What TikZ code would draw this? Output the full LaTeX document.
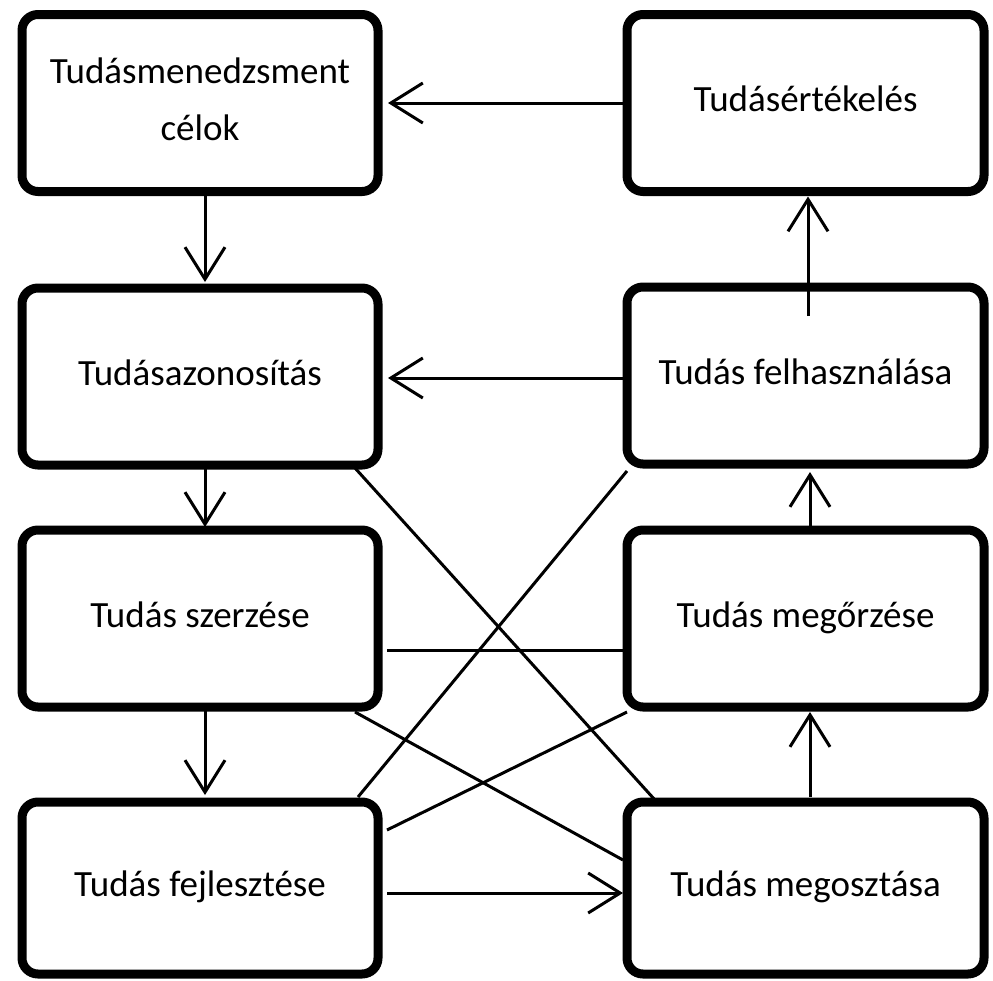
\documentclass[tikz,border=0pt]{standalone}
\usepackage{fontspec}
\setmainfont{Carlito}
\usetikzlibrary{arrows.meta,calc}
\begin{document}
\begin{tikzpicture}[x=1pt,y=-1pt,
  box/.style={draw=black, line width=9pt, rounded corners=16pt, fill=white,
    minimum width=356pt, minimum height=177pt, inner sep=0pt, outer sep=0pt,
    align=center, font=\fontsize{37}{57}\selectfont},
  oneline/.style={text height=27pt, text depth=10pt},
  conn/.style={line width=3pt, draw=black},
  arr/.style={conn, -{Straight Barb[length=32pt,width=40pt]}}
]
\useasboundingbox (0,0) rectangle (993,980);
% boxes
\node[box, text depth=8pt] (TM) at (200,103) {Tudásmenedzsment\\célok};
\node[box, oneline, minimum width=357pt] (TE) at (805.5,103) {Tudásértékelés};
\node[box, oneline] (TA) at (200,376.5) {Tudásazonosítás};
\node[box, oneline, minimum width=357pt] (TF) at (805.5,375.5) {Tudás felhasználása};
\node[box, oneline] (TS) at (200,618.5) {Tudás szerzése};
\node[box, oneline, minimum width=357pt] (TMO) at (805.5,618.5) {Tudás megőrzése};
\node[box, oneline, minimum height=172pt] (TFJ) at (200,888) {Tudás fejlesztése};
\node[box, oneline, minimum width=357pt, minimum height=172pt] (TMG) at (805.5,888) {Tudás megosztása};
% arrows
\draw[arr] (TE.west) -- ([xshift=10pt]TM.east);
\draw[arr] ([yshift=-2.5pt]TF.west) -- ([xshift=10pt,yshift=-1.5pt]TA.east);
\draw[arr] ([xshift=5pt,yshift=-4pt]TM.south) -- ([xshift=5pt,yshift=6pt]TA.north);
\draw[arr] ([xshift=5pt,yshift=-4pt]TA.south) -- ([xshift=5pt,yshift=3pt]TS.north);
\draw[arr] ([xshift=5pt,yshift=-4pt]TS.south) -- ([xshift=5pt,yshift=7pt]TFJ.north);
\draw[arr] ([xshift=9pt,yshift=-5pt]TFJ.east) -- ([xshift=-4pt,yshift=-5pt]TMG.west);
\draw[arr] ([xshift=4.5pt,yshift=5pt]TMG.north) -- ([xshift=4.5pt,yshift=-5pt]TMO.south);
\draw[arr] ([xshift=4.5pt,yshift=4pt]TMO.north) -- ([xshift=4.5pt,yshift=-8pt]TF.south);
\draw[arr] ([xshift=2.5pt,yshift=-29pt]TF.north) -- ([xshift=2.5pt,yshift=-5pt]TE.south);
% crossing lines
\draw[conn] ([xshift=-23pt,yshift=-3pt]TA.south east) -- ([xshift=28pt,yshift=2pt]TMG.north west);
\draw[conn] ([yshift=-7pt]TF.south west) -- ([xshift=-20pt,yshift=5pt]TFJ.north east);
\draw[conn] ([xshift=9pt,yshift=-31.5pt]TS.east) -- ([yshift=-31.5pt]TMO.west);
\draw[conn] ([xshift=-23pt,yshift=-5pt]TS.south east) -- ([xshift=-4pt,yshift=28pt]TMG.west);
\draw[conn] ([xshift=9pt,yshift=-28pt]TFJ.north east) -- ([yshift=-5pt]TMO.south west);
\end{tikzpicture}
\end{document}
